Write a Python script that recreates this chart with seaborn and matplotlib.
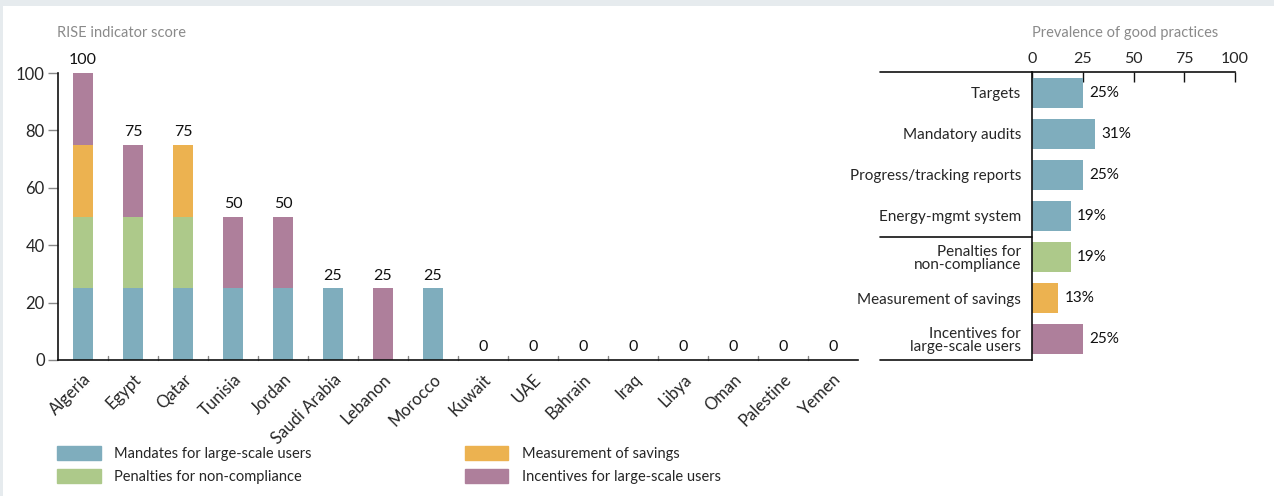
import seaborn as sns
import matplotlib.pyplot as plt
import matplotlib.patches as mpatches
import matplotlib.transforms as mtransforms
import pandas as pd

sns.set_style('white')
plt.rcParams['font.family'] = ['Lato', 'DejaVu Sans']

# ---- data ----
countries = ['Algeria', 'Egypt', 'Qatar', 'Tunisia', 'Jordan', 'Saudi Arabia', 'Lebanon',
             'Morocco', 'Kuwait', 'UAE', 'Bahrain', 'Iraq', 'Libya', 'Oman', 'Palestine', 'Yemen']
mandates = [25, 25, 25, 25, 25, 25, 0, 25, 0, 0, 0, 0, 0, 0, 0, 0]
penalties = [25, 25, 25, 0, 0, 0, 0, 0, 0, 0, 0, 0, 0, 0, 0, 0]
measurement = [25, 0, 25, 0, 0, 0, 0, 0, 0, 0, 0, 0, 0, 0, 0, 0]
incentives = [25, 25, 0, 25, 25, 0, 25, 0, 0, 0, 0, 0, 0, 0, 0, 0]

practices = ['Targets', 'Mandatory audits', 'Progress/tracking reports', 'Energy-mgmt system',
             'Penalties for\nnon-compliance', 'Measurement of savings', 'Incentives for\nlarge-scale users']
prevalence = [25, 31, 25, 19, 19, 13, 25]
practice_group = ['Mandates', 'Mandates', 'Mandates', 'Mandates', 'Penalties', 'Measurement', 'Incentives']

series = ['Mandates for large-scale users', 'Penalties for non-compliance',
          'Measurement of savings', 'Incentives for large-scale users']
colors = {'Mandates': '#7fadbd', 'Penalties': '#adc98a',
          'Measurement': '#ecb250', 'Incentives': '#ae7f9b'}
layers = ['Mandates', 'Penalties', 'Measurement', 'Incentives']

df = pd.DataFrame({'country': countries, 'Mandates': mandates, 'Penalties': penalties,
                   'Measurement': measurement, 'Incentives': incentives})
df['total'] = df[layers].sum(axis=1)
cum = df[layers].cumsum(axis=1)

fig = plt.figure(figsize=(12.74, 4.96), dpi=100, facecolor='#e6ebee')
fig.patches.append(mpatches.Rectangle((3 / 1274, 0), 1, 1 - 6 / 496, transform=fig.transFigure,
                                      facecolor='white', edgecolor='none', zorder=-1))

# ---- left: stacked bars (draw cumulative heights from the top layer down) ----
ax = fig.add_axes([58 / 1274, 1 - 360 / 496, 800 / 1274, 287 / 496])
ax.set_facecolor('none')
for key in reversed(layers):
    sns.barplot(x=df['country'], y=cum[key], color=colors[key], width=0.4,
                ax=ax, saturation=1, linewidth=0)

ax.set_xlim(-0.5, 15.5)
ax.set_ylim(0, 100)
ax.set_xlabel('')
ax.set_ylabel('')
for i, t in enumerate(df['total']):
    ax.text(i, t + 2, f'{t}', ha='center', va='bottom', fontsize=11.5, color='#111111')

ax.set_yticks([0, 20, 40, 60, 80, 100])
ax.tick_params(axis='y', length=7.5, width=1, color='#888888', labelsize=12, pad=2, left=True)
ax.set_xticks(range(len(countries)))
ax.set_xticklabels(countries, rotation=45, ha='right', rotation_mode='anchor', fontsize=12)
ax.tick_params(axis='x', which='major', length=0, pad=8)
# small separator ticks between countries
sep = mtransforms.blended_transform_factory(ax.transData, ax.transAxes)
for i in range(len(countries) - 1):
    ax.plot([i + 0.5, i + 0.5], [0, 0.014], color='#888888', lw=1, transform=sep, clip_on=False)
for s in ['top', 'right']:
    ax.spines[s].set_visible(False)
for s in ['left', 'bottom']:
    ax.spines[s].set_color('#111111')
    ax.spines[s].set_linewidth(1.2)
fig.text(57 / 1274, 1 - 33 / 496, 'RISE indicator score', fontsize=10.5, color='#8a8a8a', va='center')

# ---- right: horizontal bars ----
ax2 = fig.add_axes([1032 / 1274, 1 - 360 / 496, 203 / 1274, 288 / 496])
ax2.set_facecolor('none')
sns.barplot(x=prevalence, y=practices, hue=practice_group, palette=colors, width=0.73,
            saturation=1, legend=False, ax=ax2, orient='h', linewidth=0)
ax2.set_xlim(0, 100)
ax2.set_ylim(6.5, -0.5)
for i, v in enumerate(prevalence):
    ax2.text(v + 3, i, f'{v}%', va='center', ha='left', fontsize=11, color='#111111')
ax2.xaxis.tick_top()
ax2.set_xticks([0, 25, 50, 75, 100])
ax2.tick_params(axis='x', length=7, width=1, direction='in', color='#111111', labelsize=11.5, pad=4)
ax2.tick_params(axis='y', length=0, labelsize=11, pad=8)
for lbl in ax2.get_yticklabels():
    lbl.set_multialignment('right')
    lbl.set_linespacing(0.95)
for s in ['right', 'bottom']:
    ax2.spines[s].set_visible(False)
for s in ['left', 'top']:
    ax2.spines[s].set_color('#111111')
    ax2.spines[s].set_linewidth(1.2)
xl = (880 - 1032) / 203
line_kw = dict(color='#111111', lw=1.2, clip_on=False, transform=ax2.transAxes)
ax2.plot([xl, 0], [1, 1], **line_kw)
ax2.plot([xl, 0], [0, 0], **line_kw)
blend = mtransforms.blended_transform_factory(ax2.transAxes, ax2.transData)
ax2.plot([xl, 0], [3.5, 3.5], color='#111111', lw=1.2, clip_on=False, transform=blend)
fig.text(1032 / 1274, 1 - 33 / 496, 'Prevalence of good practices', fontsize=10.5, color='#8a8a8a', va='center')

# ---- legend ----
handles = [mpatches.Patch(color=colors[k]) for k in layers]
fig.legend(handles, series, loc='upper left', bbox_to_anchor=(44 / 1274, 1 - 433 / 496),
           ncol=2, frameon=False, fontsize=10.5, handlelength=3.0, handleheight=1.1,
           columnspacing=10.5, labelspacing=0.55, handletextpad=0.9)

fig.savefig('out.png', dpi=100, facecolor=fig.get_facecolor())
